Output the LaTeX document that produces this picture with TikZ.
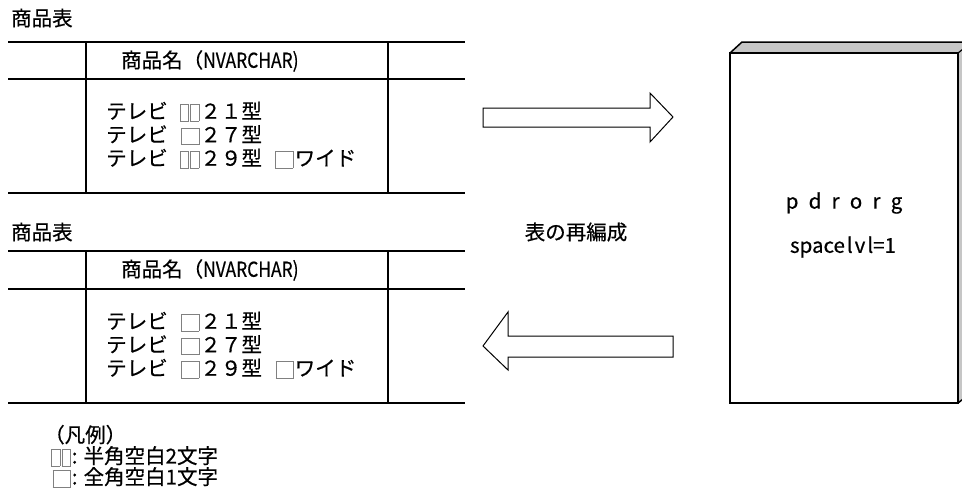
\documentclass[tikz,border=0pt]{standalone}
\usepackage{fontspec}
\setmainfont{Noto Sans CJK JP}[UprightFeatures={FakeBold=0.5}]
\usetikzlibrary{positioning}

% blank-space markers
\newcommand\hankaku{{\color{gray}\setlength\fboxsep{0pt}\setlength\fboxrule{0.6pt}\raisebox{-0.1em}{\fbox{\rule{0pt}{0.78em}\hspace{0.38em}}}}\hspace{0.06em}}
\newcommand\zenkaku{\hspace{0.06em}{\color{gray}\setlength\fboxsep{0pt}\setlength\fboxrule{0.6pt}\raisebox{-0.1em}{\fbox{\rule{0pt}{0.78em}\hspace{0.82em}}}}\hspace{0.06em}}
\newcommand\gap{\hspace{0.6em}}
\newcommand\narrow[1]{\scalebox{0.85}[1]{#1}}

\tikzset{
  txt/.style={inner sep=0pt, font=\fontsize{20.5}{23.5}\selectfont},
  rule/.style={line width=1.5pt},
  blockarrow/.style={draw, line width=1pt, fill=white},
}

\begin{document}
\begin{tikzpicture}[x=1pt, y=-1pt]
\useasboundingbox (0,0) rectangle (962,493);

% upper table
\node[txt, anchor=west] (title1) at (11,18) {商品表};
\draw[rule] (8,42) -- (465,42) (8,79) -- (465,79) (8,193) -- (465,193);
\draw[rule] (86,42) -- (86,193) (388,42) -- (388,193);
\node[txt, anchor=west] (head1) at (121,61) {商品名（\narrow{NVARCHAR)}};
\node[txt, anchor=west, align=left] (rows1) at (106,135)
  {テレビ\gap\hankaku\hankaku２１型\\
   テレビ\gap\zenkaku２７型\\
   テレビ\gap\hankaku\hankaku２９型\gap\zenkaku ワイド};

% lower table
\node[txt, anchor=west] (title2) at (11,232) {商品表};
\draw[rule] (8,251) -- (465,251) (8,289) -- (465,289) (8,403) -- (465,403);
\draw[rule] (86,251) -- (86,403) (388,251) -- (388,403);
\node[txt, anchor=west] (head2) at (121,270) {商品名（\narrow{NVARCHAR)}};
\node[txt, anchor=west, align=left] (rows2) at (106,345)
  {テレビ\gap\zenkaku２１型\\
   テレビ\gap\zenkaku２７型\\
   テレビ\gap\zenkaku２９型\gap\zenkaku ワイド};

% legend
\node[txt, anchor=west, align=left, font=\fontsize{20.5}{21}\selectfont] (legend) at (44,456)
  {（凡例）\\
   \hspace{0.35em}\hankaku\hankaku: 半角空白2文字\\
   \hspace{0.35em}\zenkaku: 全角空白1文字};

% arrows
\draw[blockarrow] (483,108) -- (650,108) -- (650,93) -- (673,117) -- (650,142)
  -- (650,127) -- (483,127) -- cycle;
\draw[blockarrow] (673,336) -- (508,336) -- (508,312) -- (483,346) -- (508,370)
  -- (508,357) -- (673,357) -- cycle;
\node[txt] (reorg) at (576,232) {表の再編成};

% pdrorg box
\draw[line width=1.5pt, fill=gray!45] (730,53) -- (742,42) -- (972,42) -- (972,392)
  -- (958,403) -- cycle;
\draw[line width=1.5pt, fill=white] (730,53) rectangle (958,403);
\draw[line width=1.2pt] (958,53) -- (972,42);
\node[txt, execute at begin node={\spaceskip=0.5em}] (cmd) at (844,203) {p d r o r g};
\node[txt] (opt) at (843,247) {space\kern2pt l\kern2pt v\kern2pt l=1};
\end{tikzpicture}
\end{document}
